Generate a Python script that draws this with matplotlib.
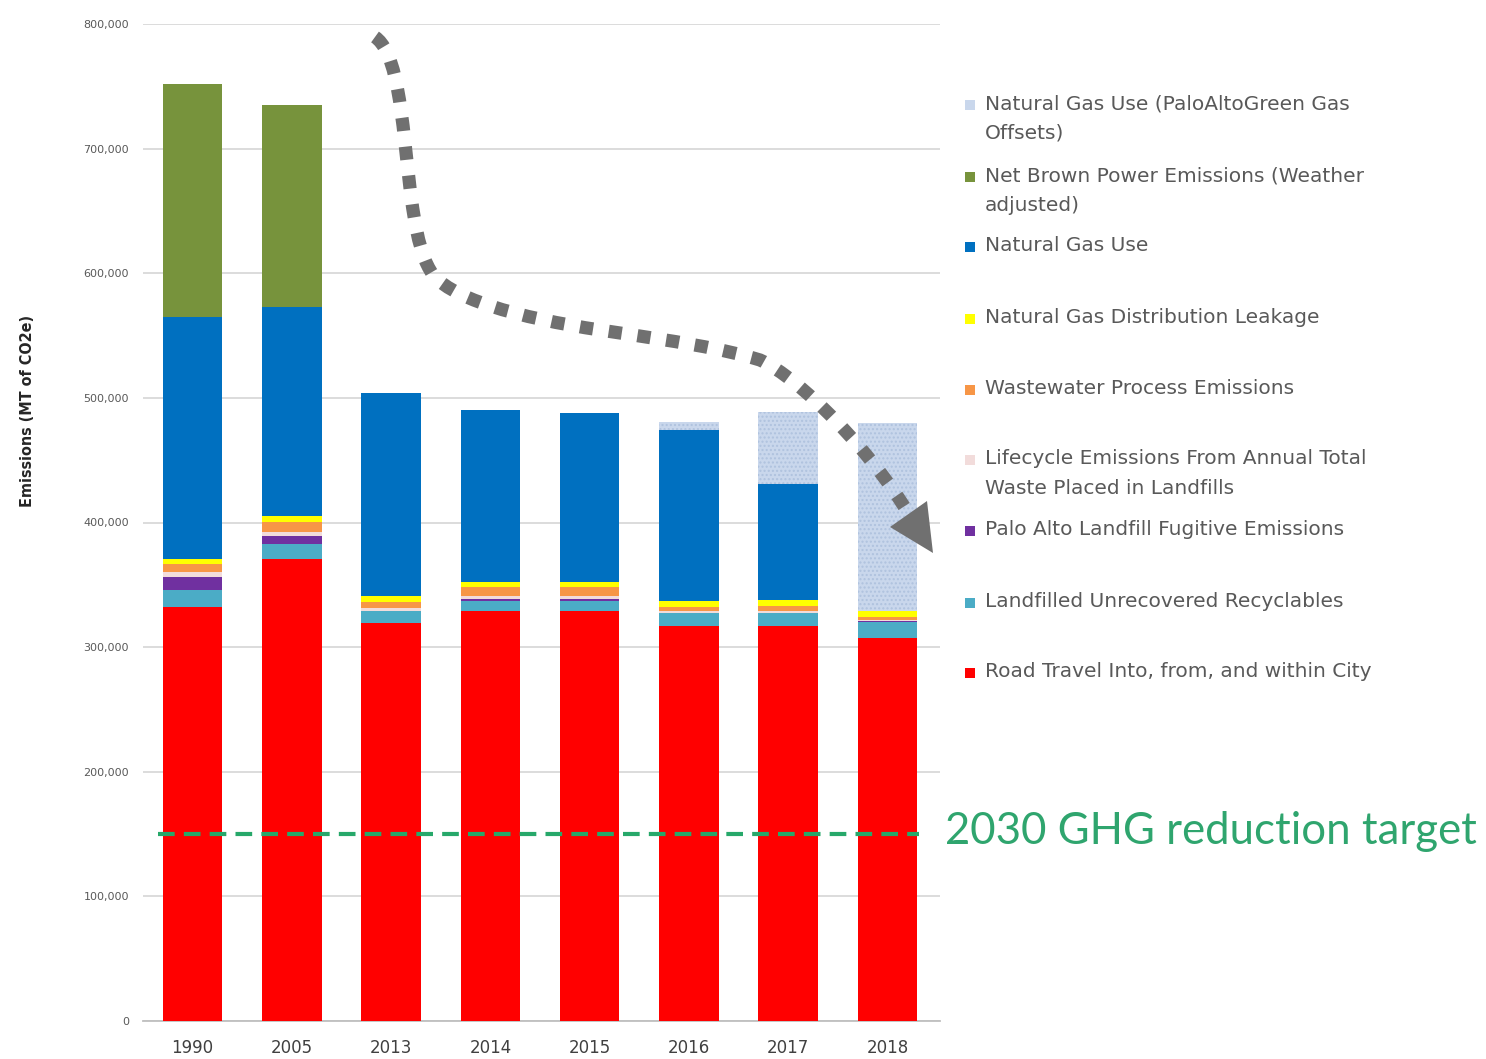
import matplotlib
matplotlib.use("Agg")
import matplotlib.pyplot as plt
import numpy as np
from matplotlib.path import Path
from matplotlib.patches import PathPatch, Polygon, Rectangle

# emissions by source, MT CO2e, stacked bottom -> top
years = ['1990', '2005', '2013', '2014', '2015', '2016', '2017', '2018']
road = [332000, 371000, 319000, 329000, 329000, 317000, 317000, 307000]
recyclables = [14000, 12000, 10000, 8000, 8000, 10000, 10000, 13000]
fugitive = [10000, 6000, 0, 2000, 2000, 0, 0, 1000]
lifecycle = [4000, 3000, 2000, 2000, 2000, 2000, 2000, 1000]
wastewater = [7000, 8000, 5000, 7000, 7000, 3000, 4000, 2000]
leakage = [4000, 5000, 5000, 4000, 4000, 5000, 5000, 5000]
gas_use = [194000, 168000, 163000, 138000, 136000, 137000, 93000, 0]
brown_power = [187000, 162000, 0, 0, 0, 0, 0, 0]
green_offsets = [0, 0, 0, 0, 0, 7000, 58000, 151000]
target_2030 = 150000

series = [road, recyclables, fugitive, lifecycle, wastewater, leakage,
          gas_use, brown_power, green_offsets]
colors = ['#FF0000', '#4BACC6', '#7030A0', '#F2DCDB', '#F79646', '#FFFF00',
          '#0070C0', '#77933C', '#C9D7EC']
legend_labels = [
    'Natural Gas Use (PaloAltoGreen Gas\nOffsets)',
    'Net Brown Power Emissions (Weather\nadjusted)',
    'Natural Gas Use',
    'Natural Gas Distribution Leakage',
    'Wastewater Process Emissions',
    'Lifecycle Emissions From Annual Total\nWaste Placed in Landfills',
    'Palo Alto Landfill Fugitive Emissions',
    'Landfilled Unrecovered Recyclables',
    'Road Travel Into, from, and within City',
]

W, H = 1486, 1059
fig = plt.figure(figsize=(W / 100, H / 100), dpi=100)
ax = fig.add_axes([143 / W, 1 - 1021 / H, (940 - 143) / W, (1021 - 24) / H])

x = np.arange(len(years))
bottom = np.zeros(len(years))
for i, (vals, c) in enumerate(zip(series, colors)):
    vals = np.array(vals, dtype=float)
    if i == len(series) - 1:
        ax.bar(x, vals, 0.6, bottom=bottom, color=c, edgecolor='#AFC2DE',
               linewidth=0, hatch='....', zorder=3)
    else:
        ax.bar(x, vals, 0.6, bottom=bottom, color=c, linewidth=0, zorder=3)
    bottom += vals

ax.set_xlim(-0.5, 7.53)
ax.set_ylim(0, 800000)
ax.set_yticks(np.arange(0, 800001, 100000))
ax.set_yticklabels(['{:,}'.format(v) for v in range(0, 800001, 100000)])
ax.set_xticks(x)
ax.set_xticklabels(years)
ax.tick_params(axis='y', length=0, pad=10, labelsize=8, labelcolor='#595959')
ax.tick_params(axis='x', length=0, pad=13, labelsize=12, labelcolor='#404040')
ax.grid(axis='y', color='#D9D9D9', linewidth=1.3, zorder=0)
ax.set_axisbelow(True)
for s in ['top', 'right', 'left']:
    ax.spines[s].set_visible(False)
ax.spines['bottom'].set_color('#BFBFBF')
ax.spines['bottom'].set_linewidth(1.3)
fig.text(28 / W, 1 - 411 / H, 'Emissions (MT of CO2e)', rotation=90,
         fontsize=11.5, fontweight='bold', fontstretch='condensed',
         color='#262626', ha='center', va='center')

# 2030 target line
ax.hlines(target_2030, -0.35, 7.32, colors='#27A86A', linewidth=3,
          linestyles=(0, (4, 2.2)), zorder=4)
fig.text(945 / W, 1 - 831 / H, '2030 GHG reduction target', color='#2FA56E',
         fontsize=31.5, family='Lato', va='center', ha='left')

# dotted trend arrow (figure pixel coords)
def fp(px, py):
    return (px / W, 1 - py / H)

verts = [fp(375, 37), fp(412, 62), fp(400, 220), fp(430, 270),
         fp(445, 298), fp(520, 318), fp(600, 330),
         fp(680, 342), fp(720, 348), fp(760, 360),
         fp(800, 378), fp(872, 452), fp(910, 516)]
codes = [Path.MOVETO] + [Path.CURVE4] * 12
trend = PathPatch(Path(verts, codes), transform=fig.transFigure, fill=False,
                  edgecolor='#707070', linewidth=9.5, linestyle=(0, (1, 1.2)),
                  capstyle='butt', zorder=5)
fig.patches.append(trend)
head = Polygon([fp(890, 527), fp(927, 501), fp(933, 553)], closed=True,
               transform=fig.transFigure, facecolor='#707070', edgecolor='none')
fig.patches.append(head)

# legend, drawn by hand to keep the even row spacing
rows = [105, 177, 247, 319, 390, 460, 531, 603, 673]
leg_colors = colors[::-1]
for yy, lab, c in zip(rows, legend_labels, leg_colors):
    fig.patches.append(Rectangle(fp(965, yy + 5), 10 / W, 10 / H,
                                 transform=fig.transFigure, facecolor=c,
                                 edgecolor='none'))
    fig.text(985 / W, 1 - (yy - 11) / H, lab, fontsize=14.5, color='#595959',
             va='top', ha='left', linespacing=1.72)

fig.savefig('out.png', dpi=100, facecolor='white')
